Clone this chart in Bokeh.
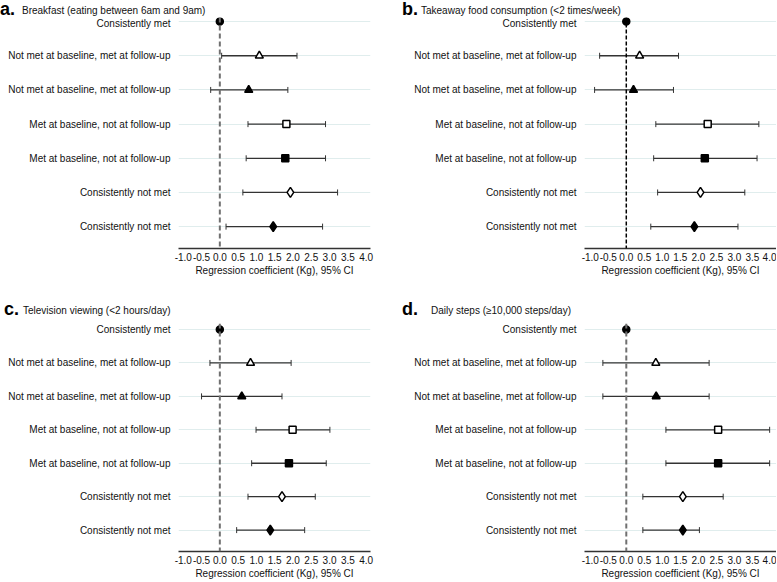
from bokeh.plotting import figure
from bokeh.models import ColumnDataSource, Whisker, TeeHead, Span, FixedTicker, Range1d, Div
from bokeh.layouts import row, column
from bokeh.embed import file_html
from bokeh.resources import INLINE

# ---------------- data ----------------
row_labels = [
    "Consistently met",
    "Not met at baseline, met at follow-up",
    "Not met at baseline, met at follow-up",
    "Met at baseline, not at follow-up",
    "Met at baseline, not at follow-up",
    "Consistently not met",
    "Consistently not met",
]
row_pos = [7, 6, 5, 4, 3, 2, 1]
marker_types = ["circle", "triangle", "triangle", "square", "square", "diamond", "diamond"]
marker_fill = ["black", "white", "black", "white", "black", "white", "black"]

x_ticks = [-1.0, -0.5, 0.0, 0.5, 1.0, 1.5, 2.0, 2.5, 3.0, 3.5, 4.0]
x_tick_labels = ["-1.0", "-0.5", "0.0", "0.5", "1.0", "1.5", "2.0", "2.5", "3.0", "3.5", "4.0"]

panel_letters = ["a.", "b.", "c.", "d."]
panel_titles = [
    "Breakfast (eating between 6am and 9am)",
    "Takeaway food consumption (&lt;2 times/week)",
    "Television viewing (&lt;2 hours/day)",
    "Daily steps (\u226510,000 steps/day)",
]

a_est = [0.0, 1.08, 0.79, 1.82, 1.79, 1.93, 1.46]
a_lo = [None, 0.05, -0.25, 0.77, 0.72, 0.63, 0.17]
a_hi = [None, 2.11, 1.86, 2.89, 2.89, 3.22, 2.81]

b_est = [0.0, 0.37, 0.20, 2.26, 2.18, 2.06, 1.89]
b_lo = [None, -0.74, -0.88, 0.82, 0.76, 0.87, 0.68]
b_hi = [None, 1.45, 1.31, 3.68, 3.63, 3.29, 3.10]

c_est = [0.0, 0.84, 0.60, 1.99, 1.89, 1.70, 1.38]
c_lo = [None, -0.27, -0.50, 0.99, 0.87, 0.77, 0.46]
c_hi = [None, 1.95, 1.70, 3.01, 2.91, 2.61, 2.32]

d_est = [0.0, 0.82, 0.83, 2.55, 2.55, 1.57, 1.57]
d_lo = [None, -0.65, -0.65, 1.10, 1.10, 0.46, 0.46]
d_hi = [None, 2.30, 2.30, 3.98, 3.98, 2.69, 2.03]

# ---------------- styling ----------------
FONT = "Liberation Sans"
marker_size = {"circle": 7, "triangle": 8, "square": 7, "diamond": 10}


def make_title(letter, title, width, height, letter_dx, title_dx, letter_bottom, title_bottom):
    html = (
        f'<div style="position:relative;width:{width}px;height:{height}px;'
        f"font-family:'{FONT}';color:#111111;\">"
        f'<span style="position:absolute;left:{letter_dx}px;bottom:{letter_bottom}px;'
        f'font-size:18px;font-weight:bold;line-height:1;color:black;">{letter}</span>'
        f'<span style="position:absolute;left:{title_dx}px;bottom:{title_bottom}px;'
        f'font-size:10px;line-height:1;white-space:nowrap;">{title}</span>'
        f'</div>'
    )
    return Div(text=html, width=width, height=height, margin=0)


def make_panel(est, lo, hi, width, height, bl, br, bt, bb, x_start, x_end, y_end,
               zero_color, zero_width, zero_dash):
    y_start = 0.36
    p = figure(width=width, height=height, output_backend="svg", toolbar_location=None,
               x_range=Range1d(x_start, x_end), y_range=Range1d(y_start, y_end),
               min_border_left=bl, min_border_right=br, min_border_top=bt, min_border_bottom=bb,
               background_fill_color="white", border_fill_color="white")
    p.outline_line_color = None
    p.xgrid.grid_line_color = None
    p.ygrid.grid_line_color = "#e0eded"
    p.ygrid.grid_line_width = 1
    p.ygrid.ticker = FixedTicker(ticks=row_pos)

    # y axis
    p.yaxis.ticker = FixedTicker(ticks=row_pos)
    p.yaxis.major_label_overrides = {pos: lab for pos, lab in zip(row_pos, row_labels)}
    p.yaxis.axis_line_color = None
    p.yaxis.major_tick_line_color = None
    p.yaxis.minor_tick_line_color = None
    p.yaxis.major_label_standoff = 2
    p.yaxis.major_label_text_font = FONT
    p.yaxis.major_label_text_font_size = "10px"
    p.yaxis.major_label_text_color = "#111111"

    # x axis
    p.xaxis.ticker = FixedTicker(ticks=x_ticks)
    p.xaxis.major_label_overrides = {t: s for t, s in zip(x_ticks, x_tick_labels)}
    p.xaxis.axis_line_color = "#333333"
    p.xaxis.axis_line_width = 1.5
    p.xaxis.major_tick_in = 0
    p.xaxis.major_tick_out = 0
    p.xaxis.minor_tick_line_color = None
    p.xaxis.major_label_standoff = 4
    p.xaxis.major_label_text_font = FONT
    p.xaxis.major_label_text_font_size = "10px"
    p.xaxis.major_label_text_color = "#111111"
    p.xaxis.axis_label = "Regression coefficient (Kg), 95% CI"
    p.xaxis.axis_label_text_font = FONT
    p.xaxis.axis_label_text_font_size = "10px"
    p.xaxis.axis_label_text_font_style = "normal"
    p.xaxis.axis_label_text_color = "#111111"
    p.xaxis.axis_label_standoff = 1

    # zero reference line
    p.add_layout(Span(location=0, dimension="height", line_color=zero_color,
                      line_width=zero_width, line_dash=zero_dash))

    # confidence intervals
    ci_pos = [y for y, l in zip(row_pos, lo) if l is not None]
    ci_lo = [l for l in lo if l is not None]
    ci_hi = [h for h in hi if h is not None]
    wsrc = ColumnDataSource(dict(base=ci_pos, lower=ci_lo, upper=ci_hi))
    p.add_layout(Whisker(base="base", lower="lower", upper="upper", dimension="width",
                         source=wsrc, line_color="#333333", line_width=1.3,
                         upper_head=TeeHead(size=6, line_color="#333333", line_width=1),
                         lower_head=TeeHead(size=6, line_color="#333333", line_width=1)))

    # point estimates
    src = ColumnDataSource(dict(x=est, y=row_pos, marker=marker_types, fill=marker_fill,
                                size=[marker_size[m] for m in marker_types]))
    p.scatter(x="x", y="y", marker="marker", fill_color="fill", line_color="black",
              line_width=1.5, size="size", source=src)
    return p


zero_grey = dict(zero_color="#707070", zero_width=2, zero_dash="5 3")
zero_black = dict(zero_color="black", zero_width=1.5, zero_dash="4 2")

ta = make_title(panel_letters[0], panel_titles[0], 388, 17, 0, 22, -1, 1)
tb = make_title(panel_letters[1], panel_titles[1], 388, 17, 14, 33, -1, 1)
tc = make_title(panel_letters[2], panel_titles[2], 388, 33, 4, 23, 5, 7)
td = make_title(panel_letters[3], panel_titles[3], 388, 33, 14, 43, 5, 7)

pa = make_panel(a_est, a_lo, a_hi, 388, 273, 178, 18, 0, 42, -1.13, 4.12, 7.12, **zero_grey)
pb = make_panel(b_est, b_lo, b_hi, 388, 273, 196, 0, 0, 42, -1.16, 4.17, 7.12, **zero_black)
pc = make_panel(c_est, c_lo, c_hi, 388, 258, 178, 18, 0, 25, -1.13, 4.12, 7.18, **zero_grey)
pd = make_panel(d_est, d_lo, d_hi, 388, 258, 196, 0, 0, 25, -1.16, 4.17, 7.18, **zero_grey)

layout = column(row(ta, tb), row(pa, pb), row(tc, td), row(pc, pd))

open("out.html", "w").write(file_html(layout, INLINE))
